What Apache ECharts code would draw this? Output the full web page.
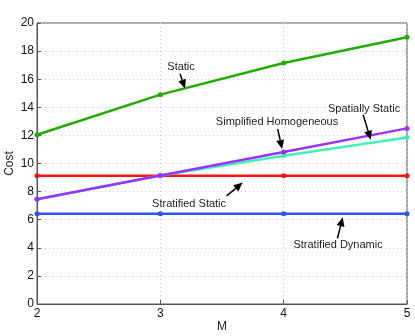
<!DOCTYPE html>
<html>
<head>
<meta charset="utf-8">
<script src="https://cdn.jsdelivr.net/npm/echarts@6/dist/echarts.min.js"></script>
<style>
  html, body { margin: 0; padding: 0; background: #fff; }
  #c1 { width: 415px; height: 336px; }
</style>
</head>
<body>
<div id="c1"></div>
<script>
// x values (M)
var mValues = [2, 3, 4, 5];
// cost per method
var staticCost = [12.05, 14.9, 17.15, 18.98];
var simplifiedHomogeneous = [7.46, 9.15, 10.82, 12.5];
var spatiallyStatic = [7.46, 9.15, 10.55, 11.85];
var stratifiedStatic = [9.12, 9.12, 9.12, 9.12];
var stratifiedDynamic = [6.43, 6.43, 6.43, 6.43];

// annotation texts and their anchors, in data units
var noteTexts = ["Static", "Simplified Homogeneous", "Spatially Static", "Stratified Static", "Stratified Dynamic"];
var noteAt = [[3.168, 16.89], [3.946, 12.97], [4.652, 13.88], [3.233, 7.13], [4.441, 4.18]];
var arrowFrom = [[3.16, 16.39], [3.952, 12.45], [4.644, 13.47], [3.538, 7.7], [4.436, 4.68]];
var arrowTo = [[3.2, 15.33], [3.987, 11.03], [4.706, 11.69], [3.668, 8.64], [4.479, 6.18]];

function pairs(ys) {
  return mValues.map(function (m, i) { return [m, ys[i]]; });
}

var chartDom = document.getElementById("c1");
var myChart = echarts.init(chartDom);
var font = "Liberation Sans, Arial, sans-serif";

function lineSeries(name, ys, color, z) {
  return {
    name: name,
    type: "line",
    data: pairs(ys),
    symbol: "circle",
    symbolSize: 5,
    showSymbol: true,
    z: z,
    lineStyle: { color: color, width: 2.5 },
    itemStyle: { color: color },
    animation: false,
  };
}

var option = {
  animation: false,
  grid: {
    left: 37, right: 8, top: 23, bottom: 32,
    outerBoundsMode: "none",
    containLabel: false,
    show: true, borderColor: "#555", borderWidth: 1,
  },
  xAxis: {
    type: "value",
    min: 2,
    max: 5,
    interval: 1,
    name: "M",
    nameLocation: "middle",
    nameGap: 17,
    nameMoveOverlap: false,
    nameTextStyle: { fontFamily: font, fontSize: 12, color: "#222" },
    axisLine: { show: true, lineStyle: { color: "#555" } },
    axisTick: { show: true, inside: true, length: 4, lineStyle: { color: "#555" } },
    axisLabel: { fontFamily: font, fontSize: 12, color: "#111", margin: 4 },
    splitLine: { show: true, lineStyle: { color: "#ccc", type: [1, 3] } },
  },
  yAxis: {
    type: "value",
    min: 0,
    max: 20,
    interval: 2,
    name: "Cost",
    nameLocation: "middle",
    nameGap: 21,
    nameMoveOverlap: false,
    nameTextStyle: { fontFamily: font, fontSize: 12, color: "#222" },
    axisLine: { show: true, lineStyle: { color: "#555" } },
    axisTick: { show: true, inside: true, length: 4, lineStyle: { color: "#555" } },
    axisLabel: { fontFamily: font, fontSize: 12, color: "#111", margin: 3 },
    splitLine: { show: true, lineStyle: { color: "#ccc", type: [1, 3] } },
  },
  series: [
    lineSeries("Stratified Dynamic", stratifiedDynamic, "#2f55f5", 2),
    lineSeries("Stratified Static", stratifiedStatic, "#f51515", 3),
    lineSeries("Spatially Static", spatiallyStatic, "#40f0b4", 4),
    lineSeries("Simplified Homogeneous", simplifiedHomogeneous, "#9933ff", 5),
    lineSeries("Static", staticCost, "#22aa00", 6),
  ],
};
myChart.setOption(option);

// annotations with arrows, placed through the chart's own scales
var graphics = [];
noteTexts.forEach(function (t, i) {
  var p = myChart.convertToPixel({ gridIndex: 0 }, noteAt[i]);
  var a = myChart.convertToPixel({ gridIndex: 0 }, arrowFrom[i]);
  var b = myChart.convertToPixel({ gridIndex: 0 }, arrowTo[i]);
  graphics.push({
    type: "text",
    x: p[0], y: p[1], z: 100,
    style: { text: t, fill: "#222", font: "11px " + font, textAlign: "center", textVerticalAlign: "middle" },
  });
  var dx = b[0] - a[0], dy = b[1] - a[1];
  var len = Math.sqrt(dx * dx + dy * dy);
  var ux = dx / len, uy = dy / len;
  var headLen = 9, headW = 4;
  var bx = b[0] - ux * headLen, by = b[1] - uy * headLen;
  graphics.push({
    type: "line", z: 100,
    shape: { x1: a[0], y1: a[1], x2: bx, y2: by },
    style: { stroke: "#000", lineWidth: 1.5 },
  });
  graphics.push({
    type: "polygon", z: 100,
    shape: { points: [[b[0], b[1]], [bx - uy * headW, by + ux * headW], [bx + uy * headW, by - ux * headW]] },
    style: { fill: "#000" },
  });
});
myChart.setOption({ graphic: graphics });

window.addEventListener("resize", function () {
  myChart.resize();
});
</script>
</body>
</html>
